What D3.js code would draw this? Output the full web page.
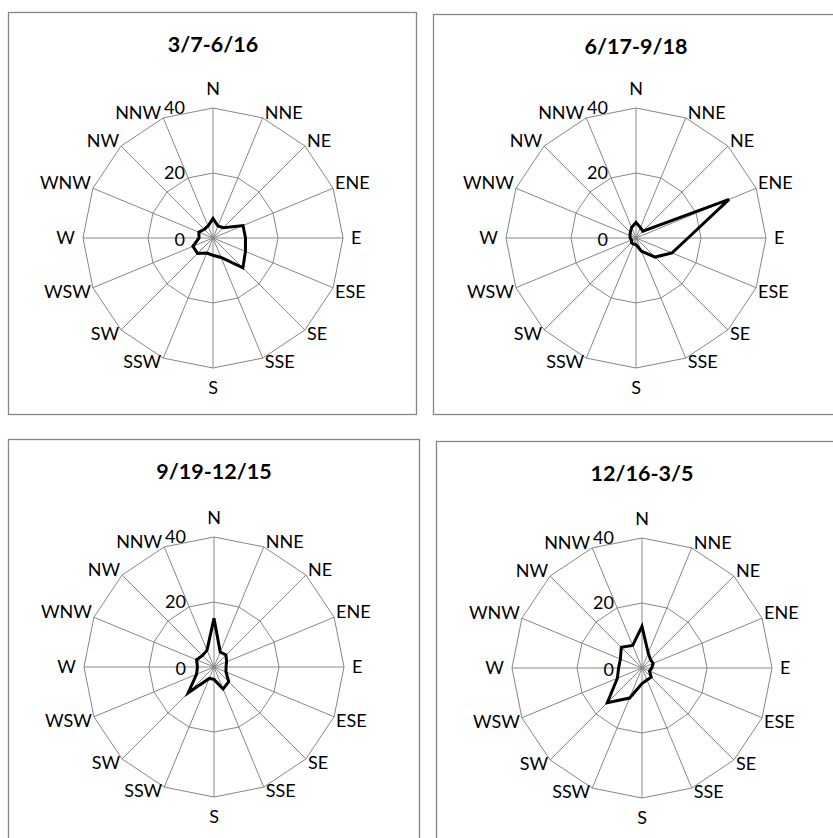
<!DOCTYPE html>
<html>
<head>
<meta charset="utf-8">
<script src="https://cdn.jsdelivr.net/npm/d3@7/dist/d3.min.js"></script>
<style>
  html, body { margin: 0; padding: 0; background: #fff; }
  svg { display: block; }
  text { font-family: Lato, "Open Sans", sans-serif; fill: #000; }
</style>
</head>
<body>
<svg id="chart" width="833" height="838"></svg>
<script>
// Wind directions, clockwise from north
const directions = ["N","NNE","NE","ENE","E","ESE","SE","SSE","S","SSW","SW","WSW","W","WNW","NW","NNW"];

// Season titles
const seasons = ["3/7-6/16", "6/17-9/18", "9/19-12/15", "12/16-3/5"];

// Frequency per direction (%) for each season
const springValues = [6, 4, 4.5, 10, 10, 10.8, 13, 6.5, 5.3, 5, 6.7, 6.7, 4.3, 4.7, 3.8, 4];
const summerValues = [4.8, 3.5, 3, 31, 16, 12, 8.3, 4.4, 2, 2, 2, 1.5, 1.8, 2, 2.5, 3.5];
const autumnValues = [15, 5, 5.2, 4.2, 3.7, 4, 6.4, 7.3, 3.8, 3.8, 11.2, 5.8, 5.1, 5.8, 5, 5.6];
const winterValues = [12.8, 5, 3.7, 3.7, 3, 2.5, 4, 4, 4.8, 10, 15.1, 8.2, 7.2, 7.2, 9, 7.5];

// Radial axis ticks
const radialTicks = [0, 20, 40];

const seriesList = [springValues, summerValues, autumnValues, winterValues];

// Panel frames and plot centres
const panels = [
  { x: 8,   y: 12,  w: 408, h: 402, cx: 213, cy: 238 },
  { x: 433, y: 14,  w: 408, h: 400, cx: 636, cy: 238 },
  { x: 8,   y: 439, w: 411, h: 402, cx: 214, cy: 667 },
  { x: 436, y: 441, w: 408, h: 402, cx: 642, cy: 668 }
];

const svg = d3.select("#chart");
const r = d3.scaleLinear().domain([0, 40]).range([0, 130]);
const angle = d3.scaleLinear().domain([0, directions.length]).range([0, 2 * Math.PI]);
const gridColor = "#878787";
const labelSize = 18;

function vertex(i, rad) {
  const a = angle(i);
  return [Math.sin(a) * rad, -Math.cos(a) * rad];
}

panels.forEach((p, k) => {
  svg.append("rect")
    .attr("x", p.x + 0.5).attr("y", p.y + 0.5)
    .attr("width", p.w).attr("height", p.h)
    .attr("fill", "#fff").attr("stroke", gridColor).attr("stroke-width", 1.3);

  svg.append("text")
    .attr("x", p.cx).attr("y", p.y + 40)
    .attr("text-anchor", "middle")
    .attr("font-size", 21.5).attr("font-weight", "bold")
    .text(seasons[k]);

  const g = svg.append("g").attr("transform", `translate(${p.cx},${p.cy})`);

  // spokes
  directions.forEach((d, i) => {
    const [x, y] = vertex(i, r(40));
    g.append("line").attr("x1", 0).attr("y1", 0).attr("x2", x).attr("y2", y)
      .attr("stroke", gridColor).attr("stroke-width", 1);
  });

  // rings
  const ring = d3.lineRadial()
    .angle((d, i) => angle(i))
    .radius(d => r(d))
    .curve(d3.curveLinearClosed);
  radialTicks.filter(t => t > 0).forEach(t => {
    g.append("path").attr("d", ring(directions.map(() => t)))
      .attr("fill", "none").attr("stroke", gridColor).attr("stroke-width", 1);
  });

  // tick labels
  radialTicks.forEach(t => {
    g.append("text")
      .attr("x", -28).attr("y", -r(t) + (t === 0 ? 2 : 0))
      .attr("dy", "0.36em")
      .attr("text-anchor", "end")
      .attr("font-size", labelSize)
      .text(t);
  });

  // data polygon
  g.append("path").attr("d", ring(seriesList[k]))
    .attr("fill", "none").attr("stroke", "#000").attr("stroke-width", 3)
    .attr("stroke-linejoin", "miter");

  // direction labels
  directions.forEach((d, i) => {
    const [vx, vy] = vertex(i, r(40));
    const s = Math.sin(angle(i)), c = Math.cos(angle(i));
    let x = vx, y = vy, anchor = "middle", dy = "0.36em";
    if (Math.abs(s) < 0.01) {
      y = c > 0 ? vy - 13 : vy + 13;
      dy = c > 0 ? "0em" : "0.72em";
    } else if (Math.abs(c) < 0.01) {
      x = s > 0 ? vx + 8 : vx - 8;
      anchor = s > 0 ? "start" : "end";
    } else {
      x = s > 0 ? vx + 2 : vx - 2;
      anchor = s > 0 ? "start" : "end";
      y = c > 0 ? vy + 1 : vy - 3;
      dy = c > 0 ? "0em" : "0.72em";
    }
    g.append("text").attr("x", x).attr("y", y).attr("dy", dy)
      .attr("text-anchor", anchor).attr("font-size", labelSize).text(d);
  });
});
</script>
</body>
</html>
